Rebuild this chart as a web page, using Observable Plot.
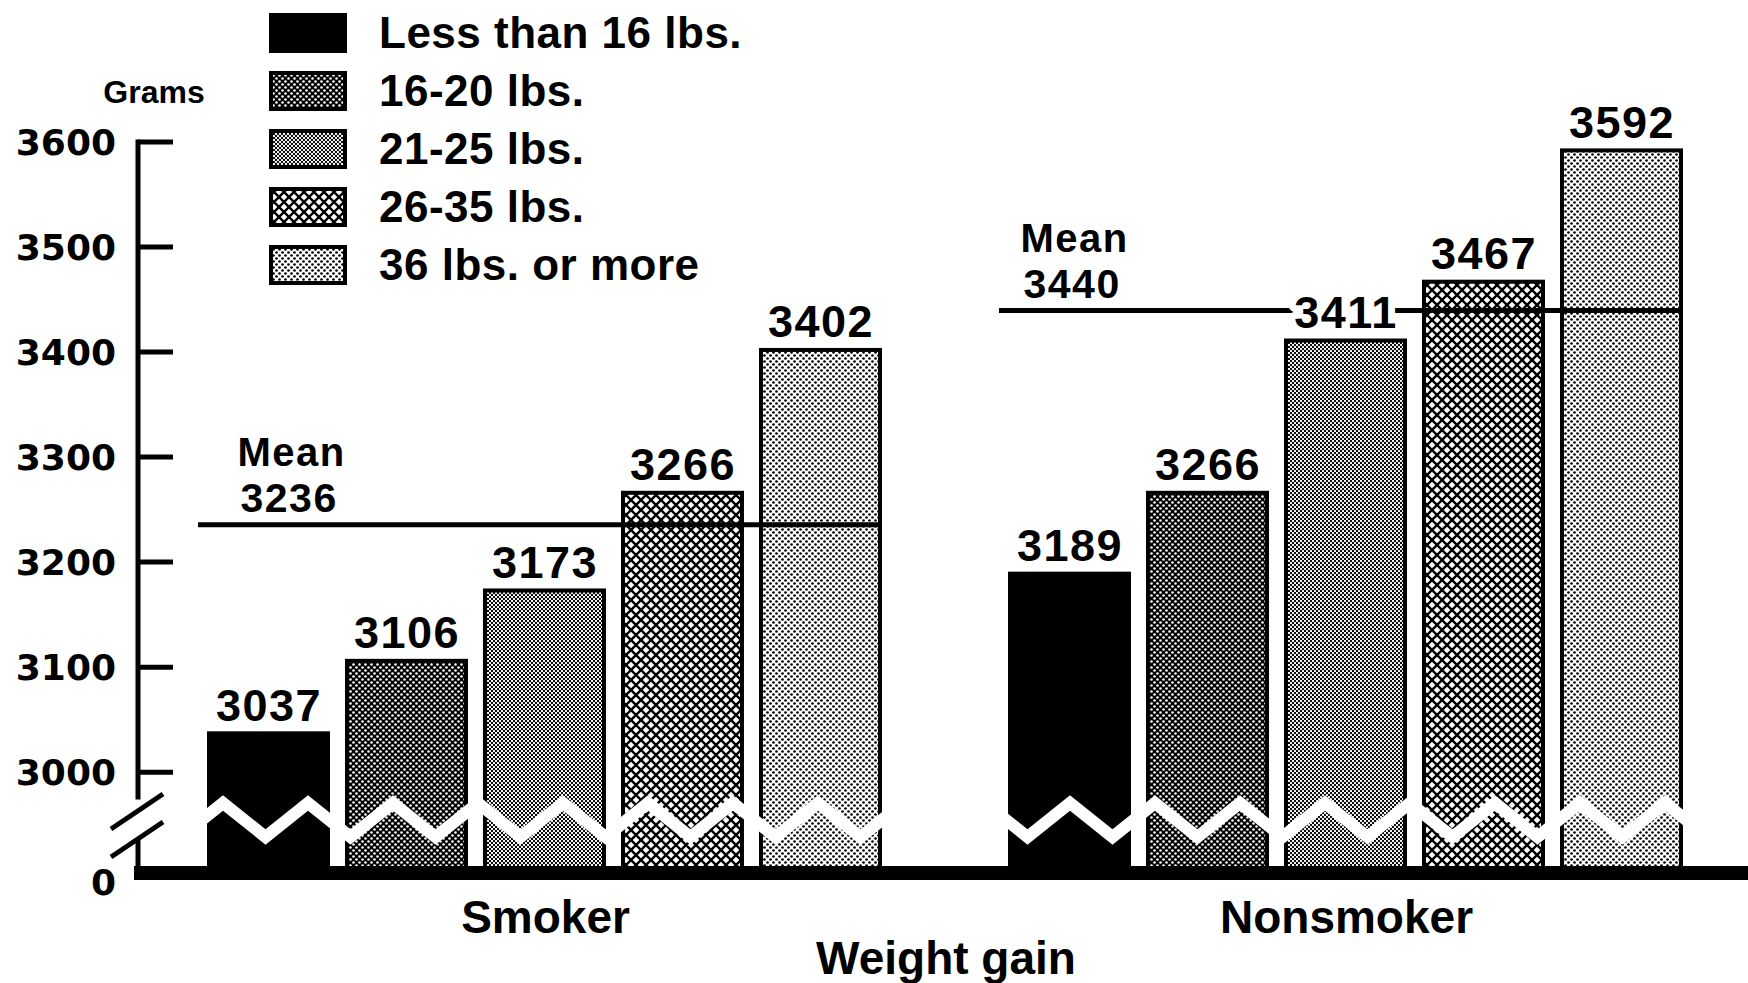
<!DOCTYPE html>
<html><head><meta charset="utf-8">
<script src="https://cdn.jsdelivr.net/npm/d3@7"></script>
<script src="https://cdn.jsdelivr.net/npm/@observablehq/plot@0.6"></script>
<style>
html,body{margin:0;padding:0;background:#fff;}
#wrap{position:relative;width:1748px;height:983px;overflow:hidden;background:#fff;}
#legend{position:absolute;left:269px;top:13px;font-family:"Liberation Sans",Arial,Helvetica,sans-serif;font-weight:bold;font-size:44px;color:#000;}
.item{display:flex;align-items:center;height:40px;margin-bottom:18px;}
.item svg{display:block;margin-right:32px;flex:none;}
.item span{line-height:40px;white-space:nowrap;letter-spacing:0.5px;}
</style></head><body>
<svg width="0" height="0" style="position:absolute">
<defs>
<pattern id="pat1620" width="6" height="6" patternUnits="userSpaceOnUse">
<rect width="6" height="6" fill="#000"/>
<circle cx="1.5" cy="1.5" r="1.3" fill="#fff"/><circle cx="4.5" cy="4.5" r="1.3" fill="#fff"/>
</pattern>
<pattern id="pat2125" width="4" height="4" patternUnits="userSpaceOnUse">
<rect width="4" height="4" fill="#fff"/>
<circle cx="1" cy="1" r="1.15" fill="#000"/><circle cx="3" cy="3" r="1.15" fill="#000"/>
</pattern>
<pattern id="pat2635" width="10" height="10" patternUnits="userSpaceOnUse">
<rect width="10" height="10" fill="#fff"/>
<path d="M-1,-1L11,11M11,-1L-1,11" stroke="#000" stroke-width="2.4" fill="none"/>
</pattern>
<pattern id="pat36" width="6" height="6" patternUnits="userSpaceOnUse">
<rect width="6" height="6" fill="#fff"/>
<circle cx="1.5" cy="1.5" r="1.35" fill="#000"/><circle cx="4.5" cy="4.5" r="1.35" fill="#000"/>
</pattern>
</defs></svg>
<div id="wrap"><div id="chart"></div><div id="legend"></div></div>
<script>
// ---- data ----
const groups = ["Smoker", "Nonsmoker"];
const gainCats = ["Less than 16 lbs.", "16-20 lbs.", "21-25 lbs.", "26-35 lbs.", "36 lbs. or more"];
const smokerGrams = [3037, 3106, 3173, 3266, 3402];
const nonsmokerGrams = [3189, 3266, 3411, 3467, 3592];
const meanGrams = [3236, 3440];
const yTicks = [3000, 3100, 3200, 3300, 3400, 3500, 3600];
const yUnit = "Grams";
const xTitle = "Weight gain";
const meanWord = "Mean";
const patternFills = ["#000", "url(#pat1620)", "url(#pat2125)", "url(#pat2635)", "url(#pat36)"];

// broken axis: the baseline ("0") sits this far below 3000 on the drawn scale
const yBase = 2904;

const rows = [];
gainCats.forEach((c, i) => rows.push({group: "Smoker", cat: c, grams: smokerGrams[i]}));
gainCats.forEach((c, i) => rows.push({group: "Nonsmoker", cat: c, grams: nonsmokerGrams[i]}));
const means = groups.map((g, i) => ({group: g, grams: meanGrams[i]}));

const FONT = '"Liberation Sans", Arial, Helvetica, sans-serif';
const meanText = (sel, dx) => [
  Plot.text(means.filter(sel), {fx: "group", frameAnchor: "left", y: "grams", text: d => String(d.grams),
    textAnchor: "start", lineAnchor: "bottom", dx, dy: -13, fontSize: 41, fontWeight: "bold", fill: "#000"}),
  Plot.text(means.filter(sel), {fx: "group", frameAnchor: "left", y: "grams", text: () => meanWord,
    textAnchor: "start", lineAnchor: "bottom", dx: dx - 3, dy: -59, fontSize: 40, fontWeight: "bold", fill: "#000"})
];

const chart = Plot.plot({
  width: 1748, height: 983,
  marginTop: 0, marginLeft: 208, marginRight: 65, marginBottom: 103,
  style: {background: "white", fontFamily: FONT, overflow: "visible"},
  fx: {domain: groups, paddingInner: 0.1608, paddingOuter: 0},
  x: {domain: gainCats, paddingInner: 0.135, paddingOuter: 0, axis: null},
  y: {domain: [yBase, 3600], range: [873, 142], axis: null},
  color: {domain: gainCats, range: patternFills},
  marks: [
    Plot.barY(rows, {fx: "group", x: "cat", y1: yBase, y2: "grams", fill: "cat", stroke: "#000", strokeWidth: 4}),
    Plot.ruleY(means, {fx: "group", y: "grams", stroke: "#000", strokeWidth: 5, insetLeft: -11}),
    Plot.text(rows, {fx: "group", x: "cat", y: "grams", text: d => String(d.grams), lineAnchor: "bottom", dy: -13,
      fontSize: 45, fontWeight: "bold", fill: "#000", stroke: "#fff", strokeWidth: 14, paintOrder: "stroke", strokeLinejoin: "round"}),
    ...meanText(d => d.group === "Smoker", 31),
    ...meanText(d => d.group === "Nonsmoker", 13),
    Plot.axisFx({anchor: "bottom", tickSize: 0, tickPadding: 20, fontSize: 46, fontWeight: "bold", label: xTitle, labelAnchor: "center", labelOffset: 93})
  ]
});
document.getElementById("chart").appendChild(chart);

const svg = d3.select(chart);
svg.selectAll('g[aria-label="text"] text').style("letter-spacing", "1.5px");

// ---- axis, break marks, baseline drawn with Plot's scales ----
const ys = chart.scale("y"), fxs = chart.scale("fx");
const Y = v => ys.apply(v);
const y0 = Y(yBase), y3 = Y(3000);
const breakTop = y0 + (y3 - y0) * 0.73, breakBottom = y0 + (y3 - y0) * 0.33;
const axisX = fxs.apply(groups[0]) - 71;

// zigzag breaks across bars
const zz = svg.append("g").attr("fill", "none").attr("stroke", "#fff").attr("stroke-width", 12).attr("stroke-linejoin", "miter");
const period = 85, half = period / 2;
const peakOff = {Smoker: 14, Nonsmoker: 60};
groups.forEach(g => {
  const left = fxs.apply(g), right = left + fxs.bandwidth;
  const off = peakOff[g];
  const kStart = Math.floor((-8 - off) / half);
  const pts = [];
  for (let k = kStart; ; k++) {
    const x = left + off + k * half;
    pts.push([x, (Math.abs(k) % 2 === 0) ? y0 - 70 : y0 - 36]);
    if (x > right + 8) break;
  }
  zz.append("polyline").attr("points", pts.map(p => p.join(",")).join(" "));
});

const ax = svg.append("g").attr("stroke", "#000").attr("fill", "none");
ax.append("line").attr("x1", axisX).attr("x2", axisX).attr("y1", Y(3600) - 2.5).attr("y2", breakTop).attr("stroke-width", 5);
ax.append("line").attr("x1", axisX).attr("x2", axisX).attr("y1", breakBottom).attr("y2", y0).attr("stroke-width", 5);
yTicks.forEach(t => ax.append("line").attr("x1", axisX).attr("x2", axisX + 35).attr("y1", Y(t)).attr("y2", Y(t)).attr("stroke-width", 5));
ax.append("line").attr("x1", axisX - 27).attr("y1", y0 - 44).attr("x2", axisX + 25).attr("y2", y0 - 79).attr("stroke-width", 5);
ax.append("line").attr("x1", axisX - 27).attr("y1", y0 - 16).attr("x2", axisX + 25).attr("y2", y0 - 51).attr("stroke-width", 5);
ax.append("line").attr("x1", axisX - 4).attr("x2", 1748).attr("y1", y0).attr("y2", y0).attr("stroke-width", 14);

const tl = svg.append("g").attr("font-family", '"DejaVu Sans", sans-serif').attr("font-weight", "bold")
  .attr("font-size", 36).attr("text-anchor", "end").attr("fill", "#000");
yTicks.forEach(t => tl.append("text").attr("x", axisX - 22).attr("y", Y(t)).attr("dy", "0.36em").text(String(t)));
tl.append("text").attr("x", axisX - 22).attr("y", y0 + 9).attr("dy", "0.36em").text("0");
svg.append("text").attr("x", axisX + 16).attr("y", 92).attr("dy", "0.35em").attr("text-anchor", "middle")
  .attr("font-family", FONT).attr("font-weight", "bold").attr("font-size", 32).attr("fill", "#000").text(yUnit);

// ---- legend ----
const color = chart.scale("color");
const leg = d3.select("#legend");
gainCats.forEach(c => {
  const item = leg.append("div").attr("class", "item");
  const s = item.append("svg").attr("width", 78).attr("height", 40);
  s.append("rect").attr("x", 2).attr("y", 2).attr("width", 74).attr("height", 36)
    .attr("fill", color.apply(c)).attr("stroke", "#000").attr("stroke-width", 4);
  item.append("span").text(c);
});
</script>
</body></html>
